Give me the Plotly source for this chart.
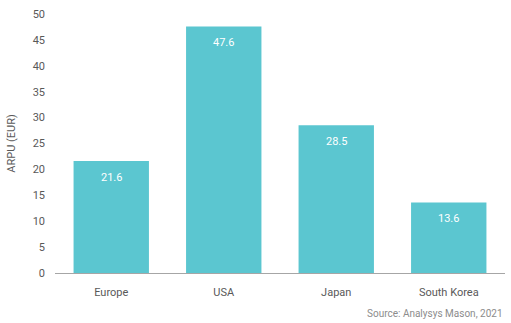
import plotly.graph_objects as go

regions = ["Europe", "USA", "Japan", "South Korea"]
arpu = [21.6, 47.6, 28.5, 13.6]
y_ticks = [0, 5, 10, 15, 20, 25, 30, 35, 40, 45, 50]

text_color = "#595959"
bar_color = "#5BC6D0"

fig = go.Figure(
    go.Bar(
        x=regions,
        y=arpu,
        marker=dict(color=bar_color, line=dict(width=0)),
        hoverinfo="x+y",
    )
)

# Value labels sit just inside the top of each bar
value_labels = [
    dict(
        x=r,
        y=v,
        xref="x",
        yref="y",
        text=f"{v:.1f}",
        showarrow=False,
        yanchor="middle",
        yshift=-16,
        font=dict(family="Roboto", size=11, color="white"),
    )
    for r, v in zip(regions, arpu)
]

source_note = dict(
    text="Source: Analysys Mason, 2021",
    xref="paper",
    yref="paper",
    x=1,
    y=0,
    yshift=-40,
    xanchor="right",
    yanchor="middle",
    showarrow=False,
    font=dict(size=10, color="#8c8c8c"),
)

fig.update_layout(
    width=511,
    height=323,
    margin=dict(l=55, r=6, t=14, b=50),
    paper_bgcolor="white",
    plot_bgcolor="white",
    bargap=0.33,
    showlegend=False,
    font=dict(family="Roboto", size=11, color=text_color),
    xaxis=dict(
        showline=True,
        linecolor="#a6a6a6",
        linewidth=1,
        ticks="",
        showgrid=False,
        ticklabelstandoff=9,
        tickfont=dict(size=11, color=text_color),
    ),
    yaxis=dict(
        range=[0, 50],
        tickvals=y_ticks,
        showgrid=False,
        zeroline=False,
        showline=False,
        ticks="",
        ticklabelstandoff=9,
        tickfont=dict(size=11, color=text_color),
        title=dict(text="ARPU (EUR)", font=dict(size=11, color=text_color), standoff=14),
    ),
    annotations=value_labels + [source_note],
)

fig.write_html("out.html")
